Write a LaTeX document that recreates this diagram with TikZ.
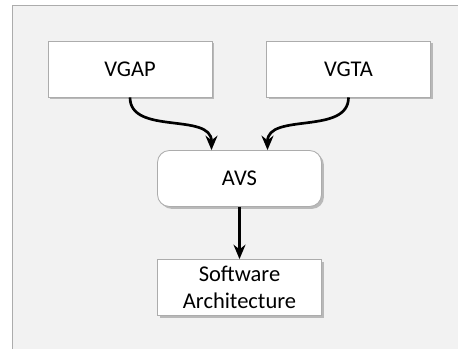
\documentclass[tikz,border=0pt]{standalone}
\usepackage{fontspec}
\setmainfont{Carlito}
\usetikzlibrary{shadows,arrows.meta}

\begin{document}
\begin{tikzpicture}[x=0.025cm, y=-0.025cm,
    box/.style={draw=gray!65, line width=0.6pt, fill=white,
        minimum width=4.1cm, minimum height=1.4cm, inner sep=0pt,
        align=center, font=\fontsize{16}{19.2}\selectfont,
        drop shadow={shadow xshift=0.06cm, shadow yshift=-0.06cm, fill=gray!55, opacity=1}},
    roundbox/.style={box, rounded corners=0.3cm},
    flow/.style={-{Stealth[length=0.36cm, width=0.3cm]}, line width=1.9pt}]
    % Frame
    \useasboundingbox (0,0) rectangle (458,349);
    \fill[white] (0,0) rectangle (458,349);
    \fill[gray!10] (12,5) rectangle (458,349);
    \draw[gray!65, line width=0.6pt] (12,349) -- (12,5) -- (458,5);

    % Inputs
    \node[box] (vgap) at (130,69) {VGAP};
    \node[box] (vgta) at (348.5,69) {VGTA};

    % Core
    \node[roundbox] (avs) at (239.5,178.5) {AVS};

    % Output
    \node[box] (arch) at (239.5,287.5) {Software\\Architecture};

    % Arrows
    \draw[flow] (vgap.south) to[out=-90, in=90] ([xshift=-0.7cm]avs.north);
    \draw[flow] (vgta.south) to[out=-90, in=90] ([xshift=0.7cm]avs.north);
    \draw[flow] (avs.south) -- (arch.north);
\end{tikzpicture}
\end{document}
